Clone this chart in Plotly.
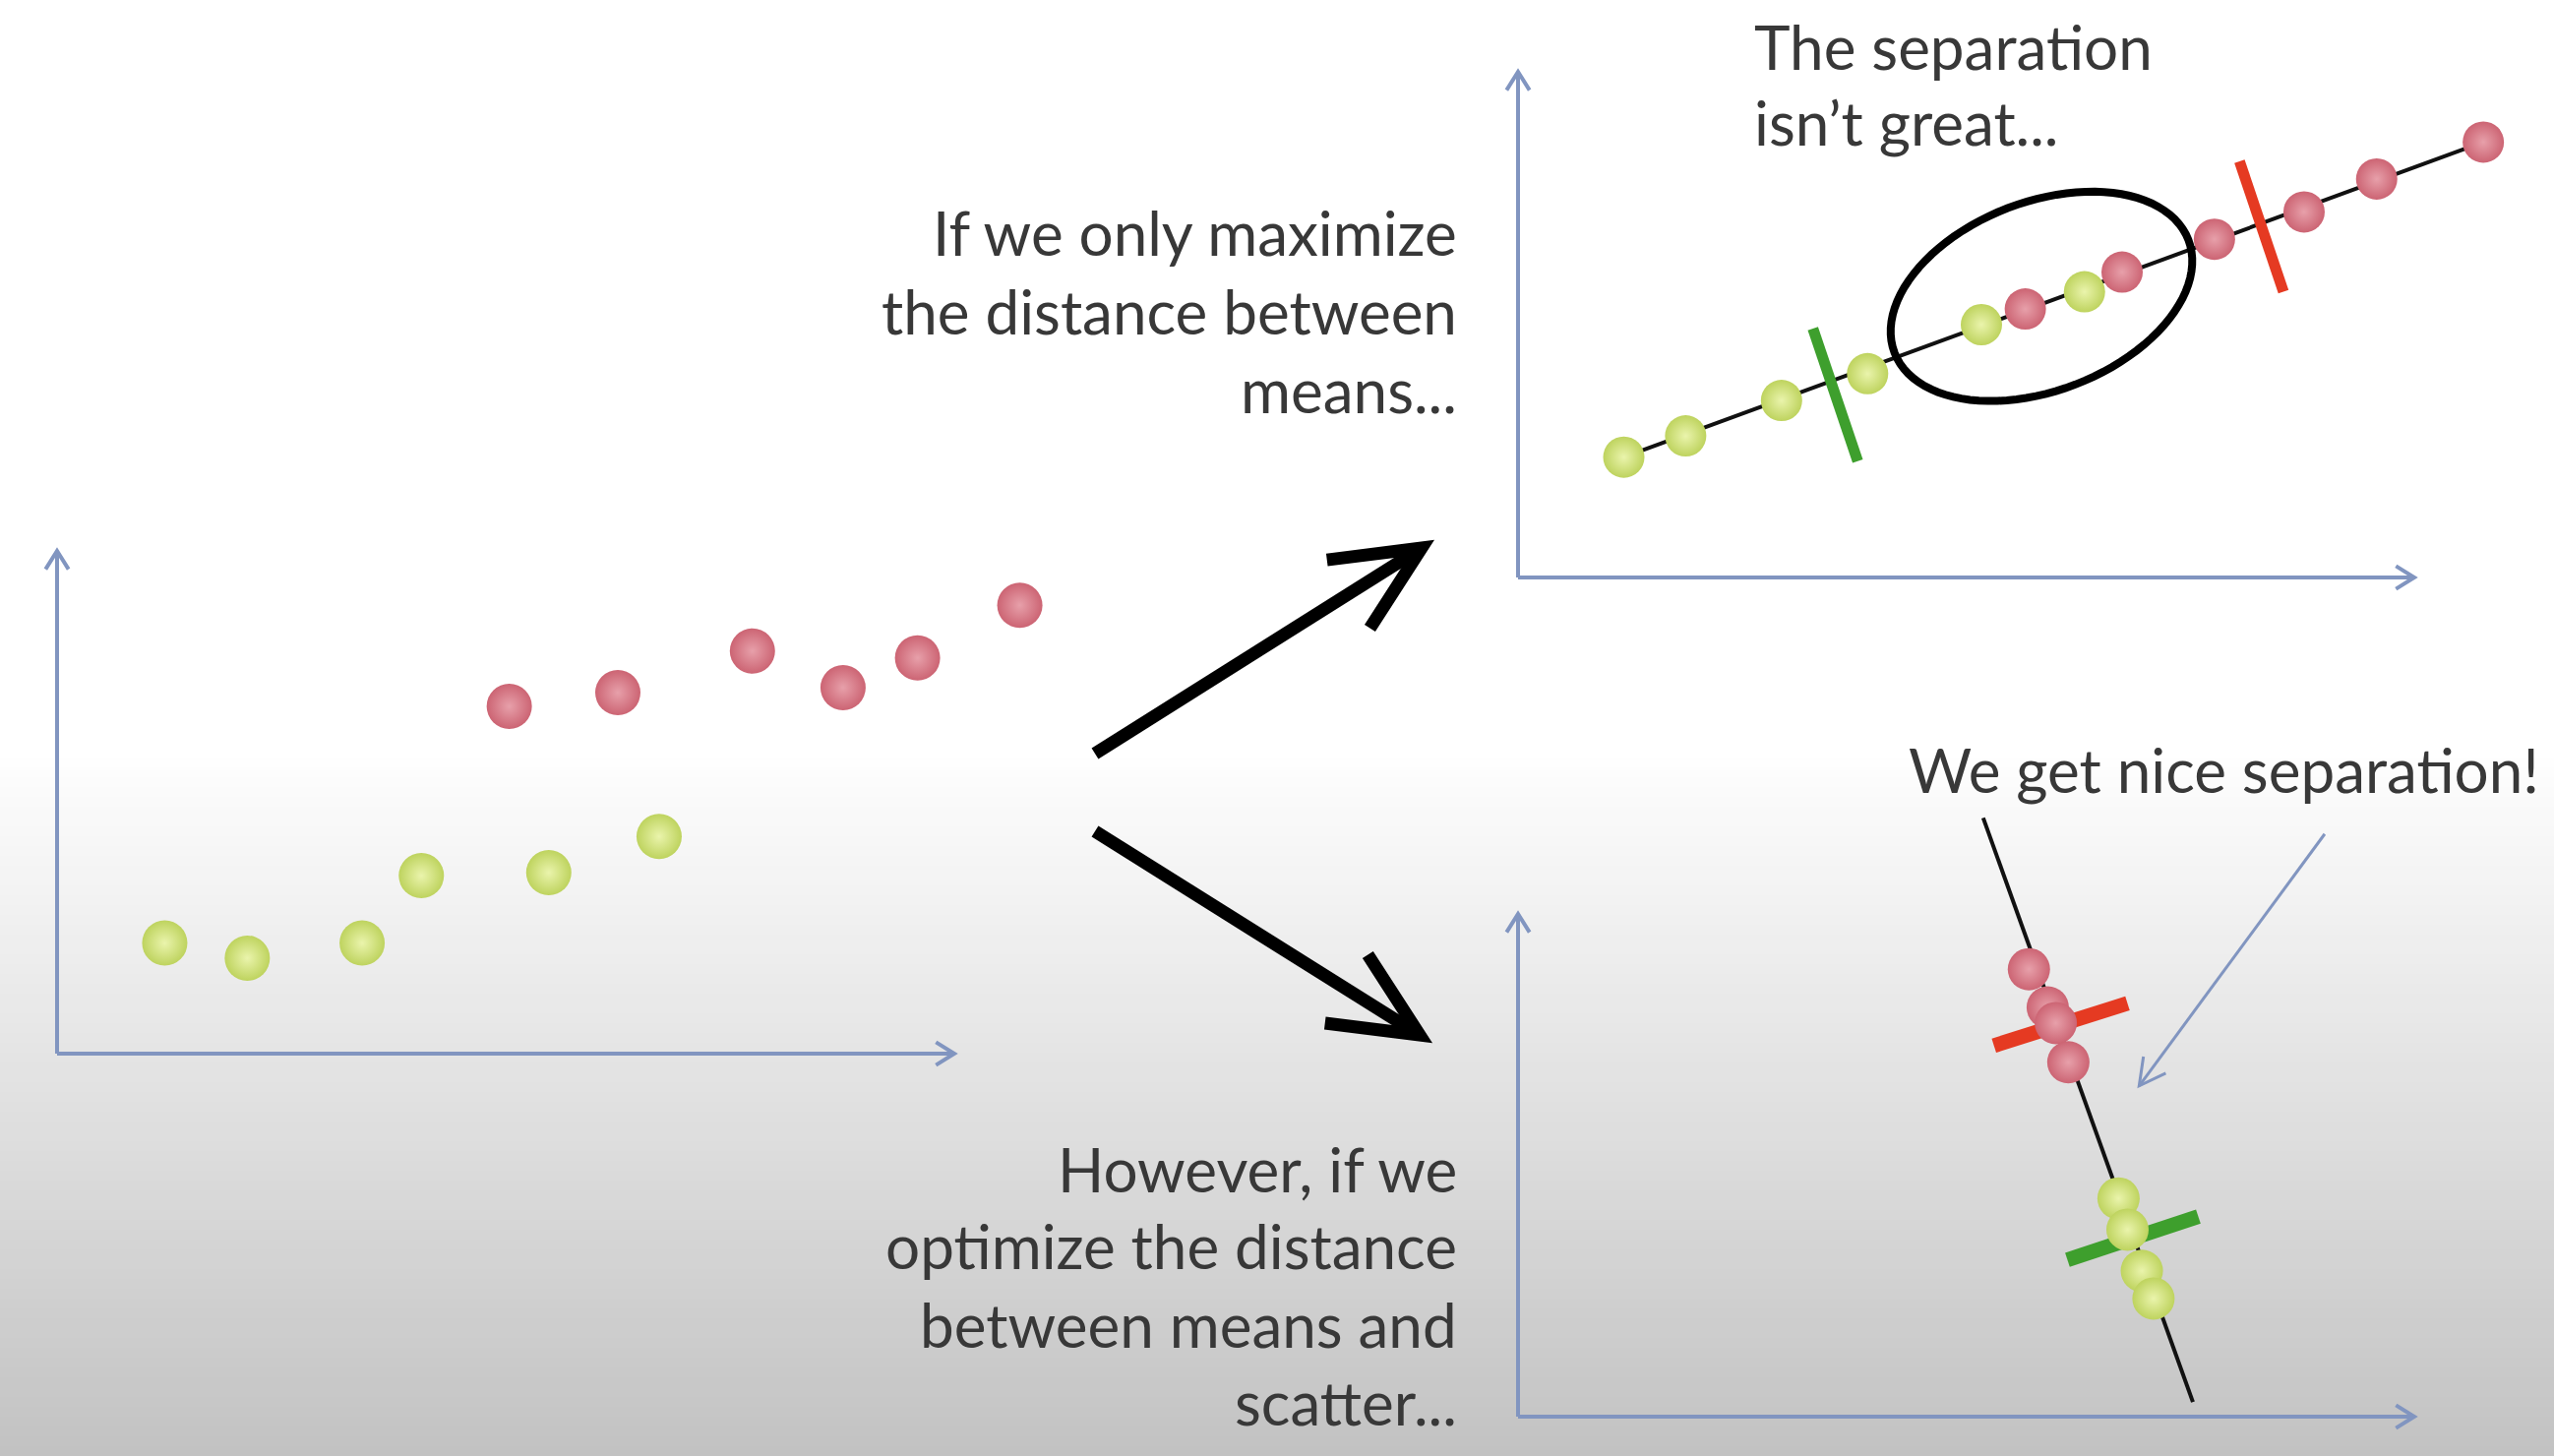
import math
import plotly.graph_objects as go

W, H = 2596, 1480

# ---------------- data (axis units: 0..10 along each drawn axis arrow) ----------------
# Panel A: original 2-D data
a_green_x = [1.20, 2.12, 3.40, 4.06, 5.48, 6.71]
a_green_y = [2.20, 1.90, 2.20, 3.54, 3.60, 4.32]
a_red_x = [5.04, 6.25, 7.75, 8.76, 9.59, 10.73]
a_red_y = [6.91, 7.18, 8.01, 7.28, 7.87, 8.92]

# Panel B: projection that only maximizes distance between means
b_line_x = [1.18, 10.77]
b_line_y = [2.38, 8.61]
b_green_x = [1.18, 1.87, 2.94, 3.90, 5.17, 6.32]
b_green_y = [2.38, 2.80, 3.50, 4.03, 5.00, 5.65]
b_red_x = [5.66, 6.74, 7.77, 8.77, 9.58, 10.77]
b_red_y = [5.31, 6.04, 6.69, 7.23, 7.88, 8.61]
b_green_mean_x = [3.29, 3.79]
b_green_mean_y = [4.92, 2.30]
b_red_mean_x = [8.05, 8.54]
b_red_mean_y = [8.23, 5.65]
b_overlap_center = (5.84, 5.56)

# Panel C: projection optimizing means and scatter
c_line_x = [5.19, 7.53]
c_line_y = [11.91, 0.29]
c_red_x = [5.70, 5.91, 6.00, 6.14]
c_red_y = [8.90, 8.14, 7.83, 7.05]
c_green_x = [6.70, 6.80, 6.96, 7.09]
c_green_y = [4.34, 3.72, 2.90, 2.35]
c_red_mean_x = [5.31, 6.80]
c_red_mean_y = [7.38, 8.22]
c_green_mean_x = [6.13, 7.59]
c_green_mean_y = [3.12, 3.98]
c_pointer_tail = (9.00, 11.59)
c_pointer_tip = (6.93, 6.58)

# ---------------- layout geometry ----------------
AXIS_COLOR = "#8195c0"
TEXT_COLOR = "#383838"
FONT = "Lato"

panels = {
    "A": dict(ox=58, oy=1071, tx=970, ty=560, xr=[-0.5, 12.0], yr=[-0.5, 11.0], n=""),
    "B": dict(ox=1543, oy=587, tx=2454, ty=73, xr=[-0.5, 11.5], yr=[-0.5, 11.0], n="2"),
    "C": dict(ox=1543, oy=1440, tx=2454, ty=929, xr=[-0.5, 11.5], yr=[-0.5, 12.5], n="3"),
}


def to_px(p, x, y):
    return (p["ox"] + x / 10 * (p["tx"] - p["ox"]),
            p["oy"] + y / 10 * (p["ty"] - p["oy"]))


def pp(pt):
    return f"{pt[0] / W:.5f},{1 - pt[1] / H:.5f}"


def chevron(tip, tail, length, half_deg):
    ux, uy = tail[0] - tip[0], tail[1] - tip[1]
    n = math.hypot(ux, uy)
    ux, uy = ux / n, uy / n
    pts = []
    for s in (1, -1):
        a = math.radians(s * half_deg)
        rx = ux * math.cos(a) - uy * math.sin(a)
        ry = ux * math.sin(a) + uy * math.cos(a)
        pts.append((tip[0] + length * rx, tip[1] + length * ry))
    return f"M {pp(pts[0])} L {pp(tip)} L {pp(pts[1])}"


fig = go.Figure()
layout = dict(
    width=W, height=H, autosize=False,
    margin=dict(l=0, r=0, t=0, b=0, pad=0),
    paper_bgcolor="white", plot_bgcolor="rgba(0,0,0,0)",
    showlegend=False,
)

shapes = []

# background gradient (white top -> light grey bottom)
g0, g1 = 760, H
nstrip = 72
for i in range(nstrip):
    y0 = g0 + (g1 - g0) * i / nstrip
    y1 = g0 + (g1 - g0) * (i + 1) / nstrip + 1
    t = (i + 0.5) / nstrip
    v = round(255 - 61 * t)
    shapes.append(dict(type="rect", xref="paper", yref="paper", layer="below",
                       x0=0, x1=1, y0=1 - y0 / H, y1=1 - y1 / H,
                       line=dict(width=0), fillcolor=f"rgb({v},{v},{v})"))

for key, p in panels.items():
    n = p["n"]
    xd = [to_px(p, p["xr"][0], 0)[0] / W, to_px(p, p["xr"][1], 0)[0] / W]
    yd = [1 - to_px(p, 0, p["yr"][0])[1] / H, 1 - to_px(p, 0, p["yr"][1])[1] / H]
    common = dict(showgrid=False, zeroline=False, showticklabels=False, ticks="",
                  showline=False, fixedrange=True)
    layout[f"xaxis{n}"] = dict(domain=xd, range=p["xr"], anchor=f"y{n}", **common)
    layout[f"yaxis{n}"] = dict(domain=yd, range=p["yr"], anchor=f"x{n}", **common)
    # axis arrows
    for (x1, y1) in ((10, 0), (0, 10)):
        shapes.append(dict(type="line", xref=f"x{n}", yref=f"y{n}", x0=0, y0=0, x1=x1, y1=y1,
                           line=dict(color=AXIS_COLOR, width=4), layer="below"))
        tip = to_px(p, x1, y1)
        origin = to_px(p, 0, 0)
        shapes.append(dict(type="path", xref="paper", yref="paper",
                           path=chevron(tip, origin, 22, 32),
                           line=dict(color=AXIS_COLOR, width=4), layer="below"))


def spheres(x, y, n, center, edge, size):
    # plotly radial gradient: marker.color at the rim, gradient.color at the centre
    return go.Scatter(x=x, y=y, xaxis=f"x{n}", yaxis=f"y{n}", mode="markers",
                      marker=dict(size=size, color=edge,
                                  gradient=dict(type="radial", color=center),
                                  line=dict(width=0)),
                      cliponaxis=False, hoverinfo="skip")


def seg(x, y, n, color, width):
    return go.Scatter(x=x, y=y, xaxis=f"x{n}", yaxis=f"y{n}", mode="lines",
                      line=dict(color=color, width=width), hoverinfo="skip")


RED_C, RED_E = "#e7a0aa", "#cc6473"
GRN_C, GRN_E = "#eaf4ac", "#bed35e"
BAR_RED, BAR_GRN = "#e53a22", "#3e9f2d"

# Panel A
fig.add_trace(spheres(a_green_x, a_green_y, "", GRN_C, GRN_E, 46))
fig.add_trace(spheres(a_red_x, a_red_y, "", RED_C, RED_E, 46))

# Panel B
fig.add_trace(seg(b_line_x, b_line_y, "2", "#111111", 4))
fig.add_trace(seg(b_green_mean_x, b_green_mean_y, "2", BAR_GRN, 11))
fig.add_trace(seg(b_red_mean_x, b_red_mean_y, "2", BAR_RED, 11))
fig.add_trace(spheres(b_green_x, b_green_y, "2", GRN_C, GRN_E, 42))
fig.add_trace(spheres(b_red_x, b_red_y, "2", RED_C, RED_E, 42))

# Panel C
fig.add_trace(seg(c_line_x, c_line_y, "3", "#111111", 4))
fig.add_trace(seg(c_red_mean_x, c_red_mean_y, "3", BAR_RED, 15))
fig.add_trace(seg(c_green_mean_x, c_green_mean_y, "3", BAR_GRN, 15))
fig.add_trace(spheres(c_red_x, c_red_y, "3", RED_C, RED_E, 43))
fig.add_trace(spheres(c_green_x, c_green_y, "3", GRN_C, GRN_E, 43))

# overlap ellipse in panel B
pB = panels["B"]
cx, cy = to_px(pB, *b_overlap_center)
ea, eb, eth = 160, 96, math.radians(21)
pts = []
for k in range(97):
    t = 2 * math.pi * k / 96
    ex = ea * math.cos(t)
    ey = eb * math.sin(t)
    px = cx + ex * math.cos(eth) + ey * math.sin(eth)
    py = cy - ex * math.sin(eth) + ey * math.cos(eth)
    pts.append((px, py))
path = "M " + " L ".join(pp(q) for q in pts) + " Z"
shapes.append(dict(type="path", xref="paper", yref="paper", path=path,
                   line=dict(color="black", width=8), fillcolor="rgba(0,0,0,0)"))

# pointer arrow in panel C
pC = panels["C"]
tail = to_px(pC, *c_pointer_tail)
tip = to_px(pC, *c_pointer_tip)
shapes.append(dict(type="path", xref="paper", yref="paper",
                   path=f"M {pp(tail)} L {pp(tip)}", line=dict(color=AXIS_COLOR, width=3)))
shapes.append(dict(type="path", xref="paper", yref="paper",
                   path=chevron(tip, tail, 30, 28), line=dict(color=AXIS_COLOR, width=3)))

# big black arrows between panels (layout decorations, pixel positions)
big_arrows = [((1113, 766), (1445, 557)), ((1113, 845), (1443, 1052))]
for t0, t1 in big_arrows:
    shapes.append(dict(type="path", xref="paper", yref="paper",
                       path=f"M {pp(t0)} L {pp(t1)}", line=dict(color="black", width=13)))
    shapes.append(dict(type="path", xref="paper", yref="paper",
                       path=chevron(t1, t0, 97, 25), line=dict(color="black", width=13)))

layout["shapes"] = shapes

# text annotations
FS = 62
texts = [
    ("If we only maximize", 1483, 236, "right"),
    ("the distance between", 1483, 316, "right"),
    ("means...", 1483, 396, "right"),
    ("The separation", 1781, 47, "left"),
    ("isn\u2019t great...", 1781, 124, "left"),
    ("We get nice separation!", 1938, 782, "left"),
    ("However, if we", 1483, 1188, "right"),
    ("optimize the distance", 1483, 1266, "right"),
    ("between means and", 1483, 1346, "right"),
    ("scatter...", 1483, 1425, "right"),
]
anns = []
for txt, x, y, anc in texts:
    anns.append(dict(text=txt, x=x / W, y=1 - y / H, xref="paper", yref="paper",
                     xanchor=anc, yanchor="middle", showarrow=False,
                     font=dict(family=FONT, size=FS, color=TEXT_COLOR)))
layout["annotations"] = anns

fig.update_layout(**layout)
fig.write_html("out.html", config={"displayModeBar": False},
               post_script="document.body.style.margin='0';document.body.style.overflow='hidden';")
